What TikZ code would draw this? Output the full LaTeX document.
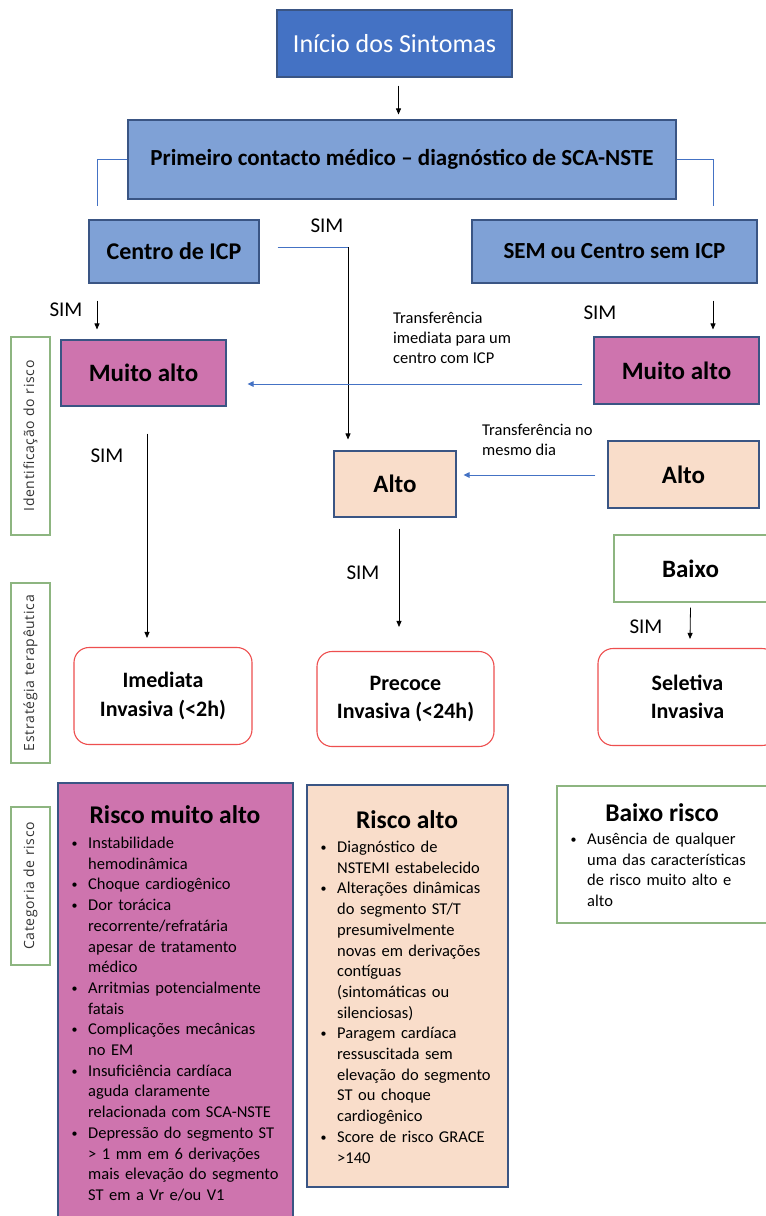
\documentclass[tikz,border=0pt]{standalone}
\usepackage{fontspec}
\setmainfont{Carlito}
\newfontfamily\sidefont[LetterSpace=5]{Open Sans}
\usetikzlibrary{arrows.meta,calc}

\definecolor{topblue}{HTML}{4472C4}
\definecolor{midblue}{HTML}{7FA1D6}
\definecolor{boxline}{HTML}{3A5584}
\definecolor{riskpurple}{HTML}{CE74AE}
\definecolor{riskpeach}{HTML}{F9DDCA}
\definecolor{sidegreen}{HTML}{8DB580}
\definecolor{redline}{HTML}{EE4F4F}
\definecolor{arrowblue}{HTML}{4472C4}
\definecolor{textgrey}{HTML}{333333}

% bullet item with hanging indent; lines are split with \newline
\newcommand\riskitem[1]{\hangindent=18pt\hangafter=1\noindent
  \makebox[18pt][l]{\hspace{1.5pt}\raisebox{1.2pt}{\fontsize{12}{12}\selectfont•}}#1\par}

\begin{document}
\begin{tikzpicture}[x=1pt,y=-1pt,
  box/.style={draw=boxline, line width=1.1pt, inner sep=0pt, align=center},
  arr/.style={-{Triangle[length=6pt,width=5pt]}, line width=0.8pt, black},
  blarr/.style={-{Triangle[length=6pt,width=5.5pt]}, line width=1pt, draw=arrowblue},
  bluel/.style={line width=1pt, draw=arrowblue},
  sidebox/.style={draw=sidegreen, line width=1.2pt, rotate=90, minimum height=39pt,
    inner sep=0pt, text=textgrey, font=\sidefont\fontsize{14}{16}\selectfont},
  redbox/.style={draw=redline, line width=1.1pt, rounded corners=15pt, fill=white,
    align=center, inner sep=0pt, font=\bfseries\fontsize{22}{28.5}\selectfont},
  sim/.style={font=\fontsize{21}{24}\selectfont},
  lbl/.style={font=\fontsize{16.5}{20}\selectfont, align=left, anchor=west, inner sep=0pt},
  title/.style={font=\bfseries\fontsize{25.5}{30}\selectfont, inner sep=0pt},
  listtext/.style={font=\fontsize{16.5}{20.7}\selectfont, align=left,
    anchor=base west, inner sep=0pt}]

\useasboundingbox[fill=white] (0,0) rectangle (766,1216);

% ---- top of the flow ----
\node[box, draw=boxline, fill=topblue, text=white, minimum width=235, minimum height=67,
      font=\fontsize{26}{30}\selectfont] (top) at (394.5,43.5) {Início dos Sintomas};
\node[box, fill=midblue, minimum width=548, minimum height=79,
      font=\bfseries\fontsize{23}{26}\selectfont] (prim) at (402,159.5)
      {Primeiro contacto médico – diagnóstico de SCA-NSTE};
\node[box, fill=midblue, minimum width=170, minimum height=63,
      font=\bfseries\fontsize{24}{28}\selectfont] (icp) at (174,251.5) {Centro de ICP};
\node[box, fill=midblue, minimum width=285, minimum height=63,
      font=\bfseries\fontsize{23}{28}\selectfont] (sem) at (614.5,251.5) {SEM ou Centro sem ICP};

% ---- risk identification ----
\node[box, fill=riskpurple, minimum width=165, minimum height=66,
      font=\bfseries\fontsize{25}{30}\selectfont] (mvaL) at (143.5,373) {Muito alto};
\node[box, fill=riskpurple, minimum width=165, minimum height=67,
      font=\bfseries\fontsize{25}{30}\selectfont] (mvaR) at (676.5,370.5) {Muito alto};
\node[box, fill=riskpeach, minimum width=122, minimum height=66,
      font=\bfseries\fontsize{25}{30}\selectfont] (altoC) at (395,484) {Alto};
\node[box, fill=riskpeach, minimum width=151, minimum height=67,
      font=\bfseries\fontsize{25}{30}\selectfont] (altoR) at (683.5,474.5) {Alto};
\node[box, draw=sidegreen, fill=white, minimum width=153, minimum height=67,
      font=\bfseries\fontsize{25}{30}\selectfont] (baixo) at (690.5,568.5) {Baixo};

% ---- therapeutic strategy ----
\node[redbox, minimum width=178, minimum height=97] (imed) at (163,696) {Imediata\\Invasiva (<2h)};
\node[redbox, minimum width=177, minimum height=95] (prec) at (405.5,699) {Precoce\\Invasiva (<24h)};
\node[redbox, minimum width=179, minimum height=97] (selet) at (687.5,697) {Seletiva\\Invasiva};

% ---- side captions ----
\node[sidebox, minimum width=198] (sideA) at (30.5,436) {Identificação do risco};
\node[sidebox, minimum width=180] (sideB) at (30.5,673) {Estratégia terapêutica};
\node[sidebox, minimum width=158] (sideC) at (30.5,886) {Categoria de risco};

% ---- connectors ----
\draw[arr] ($(top.south)+(4,8)$) -- ($(prim.north)+(-3.5,-5)$);
\coordinate (bl) at (97,206);
\coordinate (br) at (713,206);
\draw[bluel] (prim.west) -| (bl);
\draw[bluel] (prim.east) -| (br);

\coordinate (c1) at (348,247);
\draw[bluel] ($(icp.east)+(18,-4.5)$) -- (c1);
\draw[arr, shorten >=11pt] (c1) -- (c1 |- altoC.north);

\draw[arr] ($(icp.south)+(-77,17)$) -- ($(mvaL.north)+(-46.5,-10)$);
\draw[arr] ($(sem.south)+(98.5,17)$) -- ($(mvaR.north)+(36.5,-7)$);
\draw[blarr] ($(mvaR.west)+(-11,13.5)$) -- ($(mvaL.east)+(21,11)$);
\draw[blarr] ($(altoR.west)+(-12,0.5)$) -- ($(altoC.east)+(7,-9)$);
\draw[arr] ($(mvaL.south)+(3.5,27)$) -- ($(imed.north)+(-16,-9)$);
\draw[arr] ($(altoC.south)+(4,11)$) -- ($(prec.north)+(-6.5,-24)$);
\draw[arr] ($(baixo.south)+(0,5)$) -- ($(selet.north)+(2.5,-9)$);

% ---- connector labels ----
\node[sim] (s1) at (327,226) {SIM};
\node[sim] (s2) at (66,310) {SIM};
\node[sim] (s3) at (600,313) {SIM};
\node[sim] (s4) at (107,456) {SIM};
\node[sim] (s5) at (363,573) {SIM};
\node[sim] (s6) at (646,627) {SIM};
\node[lbl] (t1) at (393,337.5) {Transferência\\imediata para um\\centro com ICP};
\node[lbl] (t2) at (482,440) {Transferência no\\mesmo dia};

% ---- risk categories ----
\node[box, fill=riskpurple, minimum width=235, minimum height=435] (pur) at (175.5,1000.5) {};
\node[box, fill=riskpeach, minimum width=201, minimum height=402] (pea) at (407.5,986) {};
\node[box, draw=sidegreen, fill=white, minimum width=210, minimum height=137] (low) at (662,854.5) {};

\node[title] (purT) at (175,815) {Risco muito alto};
\node[title] (peaT) at (407,820) {Risco alto};
\node[title] (lowT) at (662,813) {Baixo risco};

\node[listtext, text width=222pt] (purL) at (70,848.5) {\parskip=0pt
\riskitem{Instabilidade\newline hemodinâmica}
\riskitem{Choque cardiogênico}
\riskitem{Dor torácica\newline recorrente/refratária\newline apesar de tratamento\newline médico}
\riskitem{Arritmias potencialmente\newline fatais}
\riskitem{Complicações mecânicas\newline no EM}
\riskitem{Insuficiência cardíaca\newline aguda claramente\newline relacionada com SCA-NSTE}
\riskitem{Depressão do segmento ST\newline > 1 mm em 6 derivações\newline mais elevação do segmento\newline ST em a Vr e/ou V1}};

\node[listtext, text width=190pt] (peaL) at (319,852.5) {\parskip=0pt
\riskitem{Diagnóstico de\newline NSTEMI estabelecido}
\riskitem{Alterações dinâmicas\newline do segmento ST/T\newline presumivelmente\newline novas em derivações\newline contíguas\newline (sintomáticas ou\newline silenciosas)}
\riskitem{Paragem cardíaca\newline ressuscitada sem\newline elevação do segmento\newline ST ou choque\newline cardiogênico}
\riskitem{Score de risco GRACE\newline >140}};

\node[listtext, text width=196pt] (lowL) at (569,844.5) {\parskip=0pt
\riskitem{Ausência de qualquer\newline uma das características\newline de risco muito alto e\newline alto}};

\end{tikzpicture}
\end{document}
